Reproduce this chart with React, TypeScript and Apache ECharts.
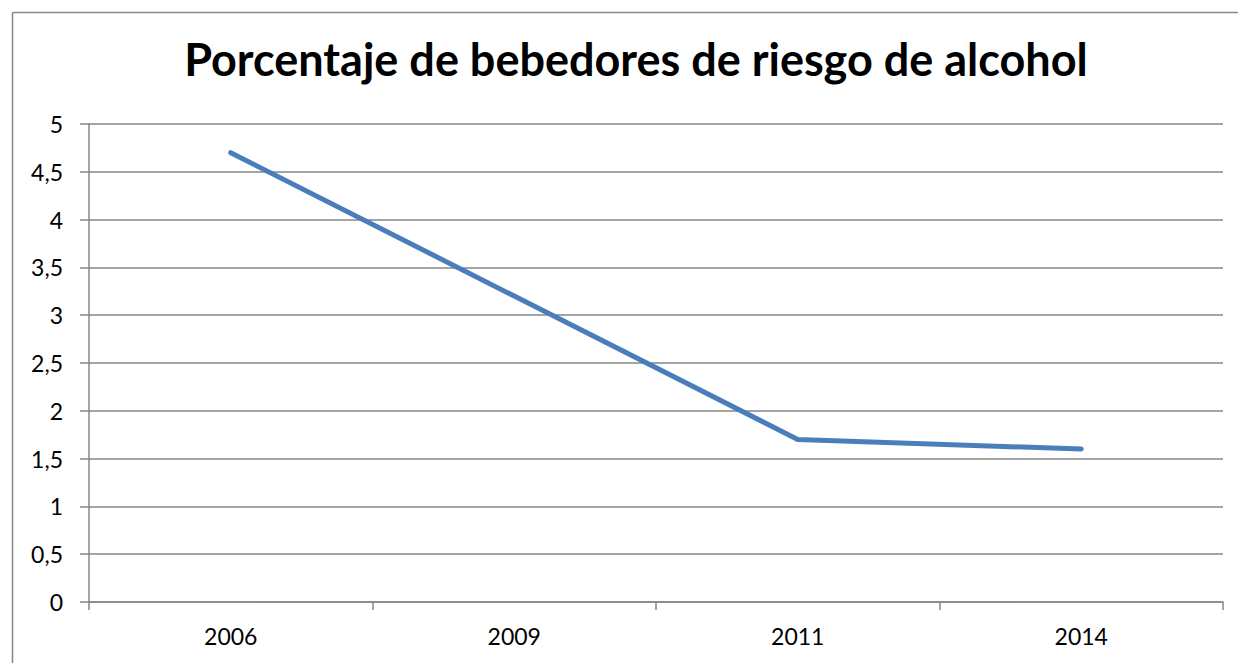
import React, { useEffect, useRef } from "react";
import * as echarts from "echarts";

const TITLE = "Porcentaje de bebedores de riesgo de alcohol";
const categories = ["2006", "2009", "2011", "2014"];
const values = [4.7, 3.2, 1.7, 1.6];
const yMin = 0;
const yMax = 5;
const yStep = 0.5;

const GRAY = "#868686";
const FONT = "Lato";

export default function App() {
  const ref = useRef<HTMLDivElement>(null);
  useEffect(() => {
    if (!ref.current) return;
    const chart = echarts.init(ref.current, undefined, { renderer: "svg" });
    chart.setOption({
      animation: false,
      backgroundColor: "#ffffff",
      title: {
        text: TITLE,
        left: 631,
        textAlign: "center",
        top: 31,
        textStyle: { fontFamily: FONT, fontWeight: "bold", fontSize: 45, color: "#000" },
      },
      graphic: [
        {
          type: "line",
          shape: { x1: 12.5, y1: 12.5, x2: 1238, y2: 12.5 },
          style: { stroke: GRAY, lineWidth: 1.5 },
          silent: true,
        },
        {
          type: "line",
          shape: { x1: 12.5, y1: 12.5, x2: 12.5, y2: 663 },
          style: { stroke: GRAY, lineWidth: 1.5 },
          silent: true,
        },
      ],
      grid: { left: 89, right: 15, top: 124, bottom: 61, containLabel: false },
      xAxis: {
        type: "category",
        data: categories,
        boundaryGap: true,
        axisLine: { show: true, lineStyle: { color: GRAY, width: 1.5 } },
        axisTick: { show: true, length: 8, inside: false, alignWithLabel: false, lineStyle: { color: GRAY, width: 1.5 } },
        axisLabel: { margin: 22, fontFamily: FONT, fontSize: 23, color: "#000" },
        splitLine: { show: false },
      },
      yAxis: {
        type: "value",
        min: yMin,
        max: yMax,
        interval: yStep,
        axisLine: { show: true, lineStyle: { color: GRAY, width: 1.5 } },
        axisTick: { show: true, length: 9, lineStyle: { color: GRAY, width: 1.5 } },
        axisLabel: {
          margin: 26,
          fontFamily: FONT,
          fontSize: 23,
          color: "#000",
          formatter: (v: number) => String(v).replace(".", ","),
        },
        splitLine: { show: true, lineStyle: { color: GRAY, width: 1.5 } },
      },
      series: [
        {
          type: "line",
          data: values,
          symbol: "none",
          lineStyle: { color: "#4a7ebb", width: 5, cap: "round", join: "round" },
        },
      ],
    });
    return () => chart.dispose();
  }, []);
  return <div ref={ref} style={{ width: 1238, height: 663, position: "absolute", left: 0, top: 0 }} />;
}
